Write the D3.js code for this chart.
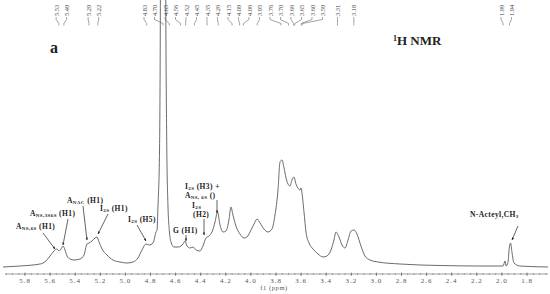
<!DOCTYPE html>
<html><head><meta charset="utf-8">
<script src="https://cdn.jsdelivr.net/npm/d3@7"></script>
<style>body{margin:0;background:#fff}svg{display:block}</style>
</head><body>
<svg id="c" width="550" height="294"></svg>
<script>
// ---- data ----
const ppm = [5.975,5.840,5.680,5.633,5.601,5.569,5.545,5.529,5.513,5.497,5.481,5.465,5.441,5.410,5.362,5.330,5.306,5.290,5.266,5.242,5.226,5.210,5.186,5.147,5.099,5.043,4.987,4.939,4.900,4.868,4.836,4.812,4.780,4.756,4.748,4.740,4.728,4.723,4.720,4.712,4.700,4.688,4.680,4.676,4.670,4.661,4.649,4.637,4.613,4.581,4.557,4.541,4.525,4.509,4.485,4.461,4.437,4.406,4.382,4.358,4.334,4.310,4.286,4.266,4.246,4.222,4.198,4.175,4.159,4.143,4.119,4.087,4.055,4.031,4.007,3.975,3.951,3.927,3.896,3.864,3.832,3.808,3.784,3.768,3.752,3.736,3.720,3.704,3.688,3.673,3.657,3.641,3.625,3.609,3.601,3.593,3.577,3.561,3.537,3.505,3.465,3.425,3.394,3.362,3.338,3.322,3.298,3.274,3.250,3.226,3.202,3.178,3.155,3.123,3.091,3.051,2.987,2.812,2.493,2.175,2.023,1.991,1.975,1.967,1.951,1.943,1.931,1.920,1.904,1.856,1.633];
const intensity = [1,2,4,7,12,17,19,17,19,22,18,12,9,8,9,13,24,25,27,30,31,26,19,13,8,6,5,6,10,18,24,23,25,36,38,63,118,208,318,518,868,518,318,208,118,63,36,26,21,21,22,24,27,22,20,21,18,17,22,30,32,36,46,56,43,36,37,48,61,53,42,34,30,31,36,44,49,45,39,36,39,53,78,106,108,100,90,84,82,88,91,84,80,78,80,75,56,36,25,19,14,11,12,18,28,36,31,23,20,28,37,38,34,22,12,8,6,4,2.5,2,2,2,7,2,6,18,25,16,5,2,1];
const peakLabels = [5.53,5.49,5.29,5.22,4.83,4.70,4.65,4.56,4.52,4.45,4.35,4.26,4.15,4.09,4.06,3.95,3.76,3.70,3.66,3.65,3.60,3.59,3.31,3.18,1.99,1.94];
const tickValues = [5.8,5.6,5.4,5.2,5.0,4.8,4.6,4.4,4.2,4.0,3.8,3.6,3.4,3.2,3.0,2.8,2.6,2.4,2.2,2.0,1.8];
const annMain = ["A","A","A","I","I","G","I","I","A","N-Acteyl,CH"];
const annSub  = ["NS,6S","NS,3S6S","NAC","2S","2S","","2S","2S","NS, 6S","3"];
const annTail = [" (H1)"," (H1)"," (H1)"," (H1)"," (H5)"," (H1)","","(H3) +"," ()",""];

// ---- layout ----
const svg = d3.select("#c");
const x = d3.scaleLinear().domain([5.8, 1.8]).range([25, 527]);
const y = d3.scaleLinear().domain([0, 268]).range([268, 0]);
const ink = "#222", lineCol = "#5a5a5a";
const serif = "'Liberation Serif','DejaVu Serif',serif";

// spectrum
const pts = ppm.map((p, i) => [p, intensity[i]]);
svg.append("path").datum(pts)
  .attr("fill", "none").attr("stroke", lineCol).attr("stroke-width", 0.9)
  .attr("d", d3.line().x(d => x(d[0])).y(d => y(d[1])).curve(d3.curveMonotoneX));

// x axis
const axY = 274;
const g = svg.append("g").attr("transform", `translate(0,${axY})`);
g.append("line").attr("x1", 5).attr("x2", 548).attr("stroke", "#777").attr("stroke-width", 0.7);
const minor = d3.range(5.95, 1.60, -0.05);
g.selectAll("line.mn").data(minor).join("line").attr("class", "mn")
  .attr("x1", d => x(d)).attr("x2", d => x(d)).attr("y1", -1).attr("y2", 1)
  .attr("stroke", "#777").attr("stroke-width", 0.6);
g.selectAll("line.mj").data(tickValues).join("line").attr("class", "mj")
  .attr("x1", d => x(d)).attr("x2", d => x(d)).attr("y1", -1.5).attr("y2", 2)
  .attr("stroke", "#666").attr("stroke-width", 0.7);
g.selectAll("text").data(tickValues).join("text")
  .attr("x", d => x(d)).attr("y", 9).attr("text-anchor", "middle")
  .attr("font-family", serif).attr("font-size", 7).attr("letter-spacing", 1)
  .attr("fill", "#555").text(d => d3.format(".1f")(d));
svg.append("text").attr("x", 274).attr("y", 290).attr("text-anchor", "middle")
  .attr("font-family", serif).attr("font-size", 6.5).attr("letter-spacing", 0.6)
  .attr("fill", "#555").text("f1 (ppm)");

// peak labels with fan leaders
const tx = peakLabels.map(p => x(p));
const lx = tx.slice();
const gap = 10.5;
for (let it = 0; it < 400; it++) {
  for (let i = 1; i < lx.length; i++) {
    const d = lx[i] - lx[i - 1];
    if (d < gap) { const m = (gap - d) / 2; lx[i] += m; lx[i - 1] -= m; }
  }
}
const pl = svg.append("g");
peakLabels.forEach((p, i) => {
  pl.append("text").attr("transform", `translate(${lx[i]},16) rotate(-90)`)
    .attr("dominant-baseline", "central").attr("font-family", serif)
    .attr("font-size", 6.5).attr("fill", "#444").text(d3.format(".2f")(p));
  pl.append("path").attr("fill", "none").attr("stroke", "#666").attr("stroke-width", 0.6)
    .attr("d", `M${lx[i]},17 V19.5 L${tx[i]},23.5 V25.5`);
});

// panel letter and title
svg.append("text").attr("x", 50).attr("y", 53).attr("font-family", serif)
  .attr("font-weight", "bold").attr("font-size", 16).attr("fill", ink).text("a");
const t = svg.append("text").attr("x", 393).attr("y", 45).attr("font-family", serif)
  .attr("font-weight", "bold").attr("font-size", 13).attr("fill", ink);
t.append("tspan").attr("font-size", 8).attr("dy", -4).text("1");
t.append("tspan").attr("dy", 4).text("H NMR");

// annotations
const defs = svg.append("defs");
defs.append("marker").attr("id", "ah").attr("viewBox", "0 0 10 10").attr("refX", 9).attr("refY", 5)
  .attr("markerWidth", 4).attr("markerHeight", 4).attr("orient", "auto")
  .append("path").attr("d", "M0,1 L10,5 L0,9 Z").attr("fill", ink);
const annPos = [
  {tx:16, ty:229, a:[43,233, 55,249]},
  {tx:30, ty:216, a:[68,219, 63,245]},
  {tx:67, ty:203, a:[83,206, 87,240]},
  {tx:100, ty:211, a:[108,214, 98,234]},
  {tx:128, ty:222, a:[137,225, 146,241]},
  {tx:173, ty:233, a:[186,235, 186,241]},
  {tx:192, ty:207.5, a:null, line2:"(H2)", l2x:193, l2y:217, a2:[204,219, 204,235]},
  {tx:185, ty:189, a:null},
  {tx:185, ty:198, a:[217,200, 217,213]},
  {tx:470, ty:217, a:[518,226, 512,240]}
];
annMain.forEach((m, i) => {
  const P = annPos[i];
  const te = svg.append("text").attr("x", P.tx).attr("y", P.ty).attr("font-family", serif)
    .attr("font-weight", "bold").attr("font-size", 7.5).attr("letter-spacing", 0.4).attr("fill", ink);
  te.append("tspan").text(m);
  if (annSub[i]) te.append("tspan").attr("font-size", 5).attr("dy", 1).text(annSub[i]);
  if (annTail[i]) te.append("tspan").attr("dy", annSub[i] ? -1 : 0).text((annSub[i] && annTail[i][0] !== " " ? " " : "") + annTail[i]);
  const arr = P.a || P.a2;
  if (P.line2) {
    svg.append("text").attr("x", P.l2x).attr("y", P.l2y).attr("font-family", serif)
      .attr("font-weight", "bold").attr("font-size", 7.5).attr("letter-spacing", 0.4).attr("fill", ink).text(P.line2);
  }
  if (arr) {
    svg.append("line").attr("x1", arr[0]).attr("y1", arr[1]).attr("x2", arr[2]).attr("y2", arr[3])
      .attr("stroke", ink).attr("stroke-width", 0.7).attr("marker-end", "url(#ah)");
  }
});
</script>
</body></html>
